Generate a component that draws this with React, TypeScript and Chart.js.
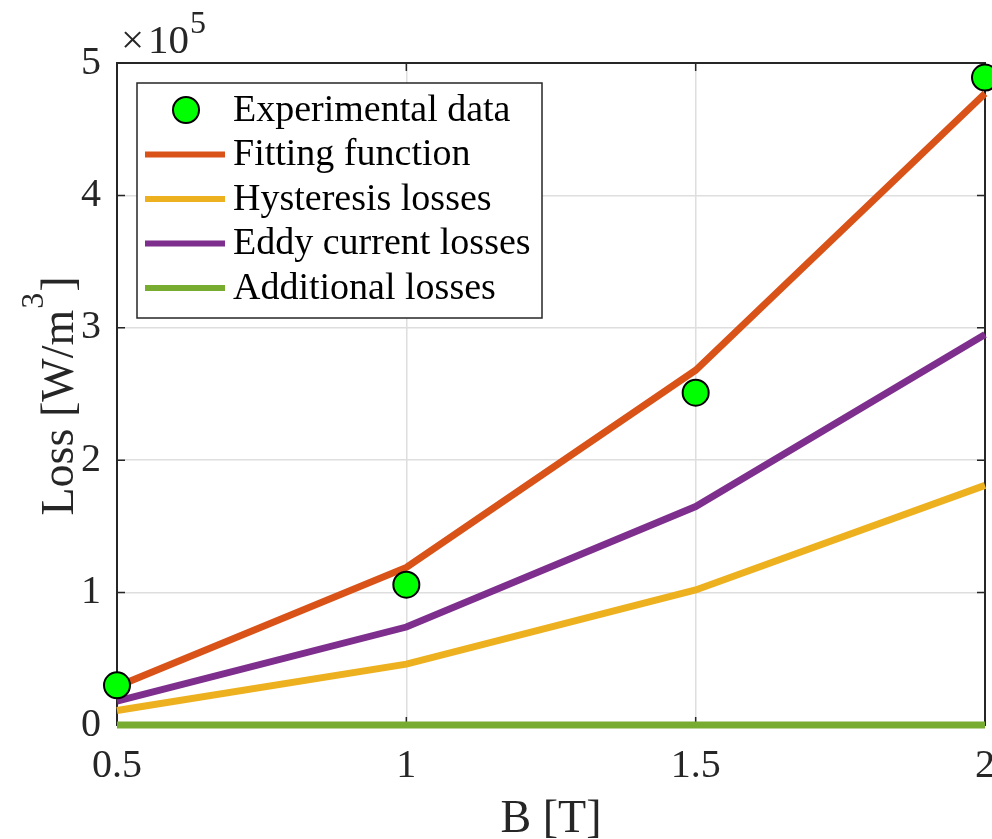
import React, { useEffect, useRef } from "react";
import { Chart, registerables } from "chart.js";

Chart.register(...registerables);

const bValues = [0.5, 1, 1.5, 2];
const experimental = [30000, 106000, 251000, 489000];
const fitting = [29000, 119000, 268000, 477000];
const hysteresis = [11000, 46000, 102000, 181000];
const eddy = [18000, 74000, 165000, 295000];
const additional = [0, 0, 0, 0];
const seriesNames = [
  "Experimental data",
  "Fitting function",
  "Hysteresis losses",
  "Eddy current losses",
  "Additional losses",
];
const yTicks = [0, 100000, 200000, 300000, 400000, 500000];
const xTicks = [0.5, 1, 1.5, 2];
const xTitle = "B [T]";

const FONT = "'Liberation Serif', 'Times New Roman', serif";
const AXIS = "#262626";

const toPts = (ys: number[]) => bValues.map((x, i) => ({ x, y: ys[i] }));

const decorPlugin = {
  id: "decor",
  beforeDatasetsDraw(chart: any) {
    const { ctx, chartArea: a } = chart;
    const xs = chart.scales.x;
    const ys = chart.scales.y;
    ctx.save();
    ctx.strokeStyle = AXIS;
    ctx.lineWidth = 2;
    ctx.strokeRect(a.left, a.top, a.right - a.left, a.bottom - a.top);
    ctx.lineWidth = 1.5;
    const tl = 8;
    xTicks.forEach((t) => {
      const px = xs.getPixelForValue(t);
      ctx.beginPath();
      ctx.moveTo(px, a.bottom);
      ctx.lineTo(px, a.bottom - tl);
      ctx.moveTo(px, a.top);
      ctx.lineTo(px, a.top + tl);
      ctx.stroke();
    });
    yTicks.forEach((t) => {
      const py = ys.getPixelForValue(t);
      ctx.beginPath();
      ctx.moveTo(a.left, py);
      ctx.lineTo(a.left + tl, py);
      ctx.moveTo(a.right, py);
      ctx.lineTo(a.right - tl, py);
      ctx.stroke();
    });
    ctx.restore();
  },
  afterDraw(chart: any) {
    const { ctx, chartArea: a } = chart;
    ctx.save();
    ctx.fillStyle = AXIS;
    // exponent label
    ctx.textBaseline = "alphabetic";
    ctx.textAlign = "left";
    ctx.font = `41px ${FONT}`;
    ctx.fillText("×", a.left + 4, 53);
    ctx.fillText("10", a.left + 31, 53);
    const w10 = ctx.measureText("10").width;
    ctx.font = `32px ${FONT}`;
    ctx.fillText("5", a.left + 32 + w10, 33);

    // x title
    ctx.font = `46px ${FONT}`;
    ctx.textAlign = "center";
    ctx.fillText(xTitle, (a.left + a.right) / 2, 832);
    ctx.textAlign = "left";

    // y title with superscript
    const main1 = "Loss [W/m";
    const sup = "3";
    const main2 = "]";
    ctx.font = `46px ${FONT}`;
    const w1 = ctx.measureText(main1).width;
    const w2 = ctx.measureText(main2).width;
    ctx.font = `32px ${FONT}`;
    const ws = ctx.measureText(sup).width;
    const total = w1 + ws + w2 + 2;
    ctx.translate(73, 396);
    ctx.rotate(-Math.PI / 2);
    ctx.textBaseline = "alphabetic";
    const x0 = -total / 2;
    ctx.font = `46px ${FONT}`;
    ctx.fillText(main1, x0, 0);
    ctx.font = `32px ${FONT}`;
    ctx.fillText(sup, x0 + w1 + 1, -30);
    ctx.font = `46px ${FONT}`;
    ctx.fillText(main2, x0 + w1 + ws + 2, 0);
    ctx.setTransform(1, 0, 0, 1, 0, 0);

    // legend
    const lx = a.left + 20;
    const ly = a.top + 20;
    const lw = 405;
    const lh = 235;
    ctx.fillStyle = "#ffffff";
    ctx.fillRect(lx, ly, lw, lh);
    ctx.strokeStyle = AXIS;
    ctx.lineWidth = 1.5;
    ctx.strokeRect(lx, ly, lw, lh);
    const rowH = 44.5;
    chart.data.datasets.forEach((ds: any, i: number) => {
      const cy = ly + 27 + i * rowH;
      if (ds.showLine === false) {
        ctx.beginPath();
        ctx.arc(lx + 49, cy, 13, 0, Math.PI * 2);
        ctx.fillStyle = ds.pointBackgroundColor;
        ctx.fill();
        ctx.lineWidth = 2;
        ctx.strokeStyle = "#000";
        ctx.stroke();
      } else {
        ctx.beginPath();
        ctx.moveTo(lx + 8, cy);
        ctx.lineTo(lx + 88, cy);
        ctx.lineWidth = 6;
        ctx.strokeStyle = ds.borderColor;
        ctx.stroke();
      }
      ctx.fillStyle = "#000";
      ctx.font = `38px ${FONT}`;
      ctx.textBaseline = "middle";
      ctx.textAlign = "left";
      ctx.fillText(ds.label, lx + 96, cy + 1);
    });
    ctx.restore();
  },
};

export default function App() {
  const ref = useRef<HTMLCanvasElement>(null);
  useEffect(() => {
    document.body.style.margin = "0";
    const lineDs = (label: string, data: number[], color: string) => ({
      label,
      data: toPts(data),
      borderColor: color,
      backgroundColor: color,
      borderWidth: 7,
      pointRadius: 0,
      showLine: true,
      clip: false as any,
    });
    const chart = new Chart(ref.current!, {
      type: "scatter",
      data: {
        datasets: [
          {
            label: seriesNames[0],
            data: toPts(experimental),
            showLine: false,
            pointRadius: 13,
            pointBackgroundColor: "#00ff00",
            pointBorderColor: "#000000",
            pointBorderWidth: 2,
            clip: false as any,
            order: 0,
          } as any,
          { ...lineDs(seriesNames[1], fitting, "#D95319"), order: 1 },
          { ...lineDs(seriesNames[2], hysteresis, "#EDB120"), order: 2 },
          { ...lineDs(seriesNames[3], eddy, "#7E2F8E"), order: 3 },
          { ...lineDs(seriesNames[4], additional, "#77AC30"), order: 4 },
        ],
      },
      options: {
        animation: false,
        responsive: false,
        layout: { autoPadding: false, padding: { left: 0, right: 7, top: 63, bottom: 0 } },
        plugins: { legend: { display: false }, tooltip: { enabled: false } },
        scales: {
          x: {
            type: "linear",
            min: 0.5,
            max: 2,
            afterBuildTicks: (s: any) => {
              s.ticks = xTicks.map((v) => ({ value: v }));
            },
            afterFit: (s: any) => {
              s.height = 114;
              s.paddingLeft = 0;
              s.paddingRight = 0;
            },
            grid: { color: "#dedede", lineWidth: 1.5, drawTicks: false },
            border: { display: false },
            ticks: {
              color: AXIS,
              font: { family: FONT, size: 40 },
              padding: 17,
              maxRotation: 0,
              autoSkip: false,
              callback: (v: any) => String(v),
            },
            title: { display: false },
          },
          y: {
            min: 0,
            max: 500000,
            afterBuildTicks: (s: any) => {
              s.ticks = yTicks.map((v) => ({ value: v }));
            },
            afterFit: (s: any) => {
              s.width = 117;
              s.paddingTop = 0;
              s.paddingBottom = 0;
            },
            grid: { color: "#dedede", lineWidth: 1.5, drawTicks: false },
            border: { display: false },
            ticks: {
              color: AXIS,
              font: { family: FONT, size: 40 },
              padding: 16,
              autoSkip: false,
              callback: (v: any) => String(Number(v) / 100000),
            },
          },
        },
      },
      plugins: [decorPlugin],
    } as any);
    return () => chart.destroy();
  }, []);
  return <canvas ref={ref} width={992} height={839} style={{ display: "block" }} />;
}
